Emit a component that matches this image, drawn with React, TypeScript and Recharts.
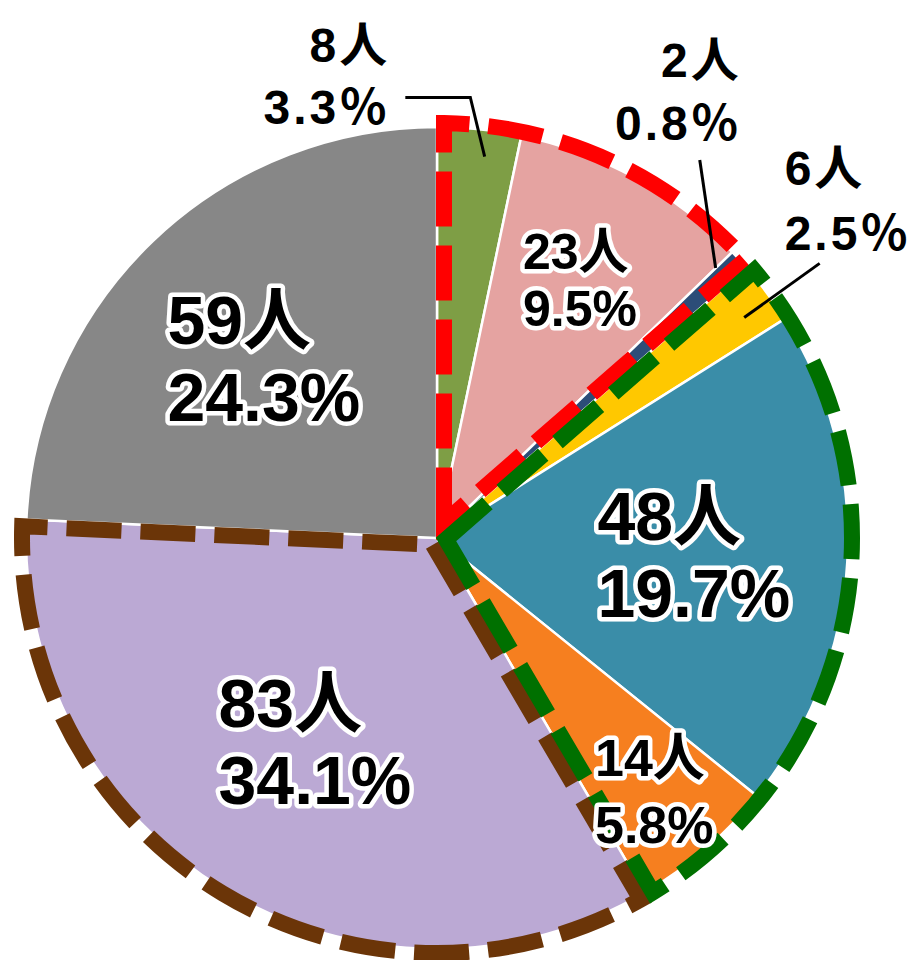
import React from 'react';
import { PieChart, Pie, Cell } from 'recharts';

// slices clockwise from 12 o'clock
const sliceNames = ['s1', 's2', 's3', 's4', 's5', 's6', 's7', 's8'];
const counts = [8, 23, 2, 6, 48, 14, 83, 59];
const percentLabels = ['3.3', '9.5', '0.8', '2.5', '19.7', '5.8', '34.1', '24.3'];
const sliceColors = ['#7E9E45', '#E5A3A1', '#2C4D78', '#FFC800', '#3A8DA8', '#F67F1F', '#BBA9D4', '#878787'];

// dashed outlines around groups of slices
const groupMembers = [[0, 1, 2], [3, 4, 5], [6], [7]];
const groupColors = ['#FF0000', '#007000', '#6B3508', 'none'];

const sliceData = sliceNames.map((name, i) => ({ name, value: counts[i] }));
const groupData = groupMembers.map((m, i) => ({
    name: `g${i}`,
    value: m.reduce((s, k) => s + counts[k], 0),
}));

const CX = 432;
const CY = 533;
const R = 411;
const OUT_R = R + 4;
const INSET = 7;
const RAD = Math.PI / 180;

const polar = (cx: number, cy: number, r: number, angle: number) => ({
    x: cx + Math.cos(-angle * RAD) * r,
    y: cy + Math.sin(-angle * RAD) * r,
});

const charW = (c: string) => (/[0-9]/.test(c) ? 0.556 : c === '.' ? 0.278 : c === '%' ? 0.889 : 1);
const textW = (s: string) => s.split('').reduce((a, c) => a + charW(c), 0);

// labels inside the slices (r = fraction of radius, fs = font size, gap = line pitch)
const INSIDE: Record<number, { r: number; fs: number; gap: number }> = {
    1: { r: 0.72, fs: 50, gap: 1.14 },
    4: { r: 0.626, fs: 68, gap: 1.13 },
    5: { r: 0.81, fs: 52, gap: 1.28 },
    6: { r: 0.575, fs: 68, gap: 1.13 },
    7: { r: 0.61, fs: 68, gap: 1.13 },
};

// labels outside with leader lines (angle offsets in clockwise degrees)
const OUTSIDE: Record<number, { inR: number; d1: number; outR: number; d2: number; hx: number; anchor: 'start' | 'end'; tx: number; ty1: number; ty2: number }> = {
    0: { inR: 0.935, d1: 1.2, outR: 1.075, d2: -1.6, hx: -65, anchor: 'end', tx: -80, ty1: -35, ty2: 27 },
    2: { inR: 0.944, d1: -1.5, outR: 1.12, d2: -12.6, hx: 0, anchor: 'end', tx: 42, ty1: -83, ty2: -20 },
    3: { inR: 0.92, d1: 1, outR: 1.146, d2: 1, hx: 0, anchor: 'start', tx: -35, ty1: -78, ty2: -13 },
};

const INNER_FONT = "'Liberation Sans', 'Noto Sans CJK JP', sans-serif";

// eslint-disable-next-line @typescript-eslint/no-explicit-any
const renderLabel = (props: any) => {
    const { cx, cy, midAngle, outerRadius, index } = props;
    const line1 = `${counts[index]}人`;

    const inside = INSIDE[index];
    if (inside) {
        const line2 = `${percentLabels[index]}%`;
        const p = polar(cx, cy, outerRadius * inside.r, midAngle);
        const w = Math.max(textW(line1), textW(line2)) * inside.fs;
        const pitch = inside.fs * inside.gap;
        const capH = inside.fs * 0.75;
        const b1 = p.y - pitch / 2 + capH / 2;
        const common = {
            x: p.x - w / 2,
            textAnchor: 'start' as const,
            fontSize: inside.fs,
            fontWeight: 'bold',
            fontFamily: INNER_FONT,
            fill: '#000',
            stroke: '#fff',
            strokeWidth: 9,
            strokeLinejoin: 'round' as const,
            paintOrder: 'stroke',
        };
        return (
            <g key={`lab-${index}`}>
                <text {...common} y={b1}>{line1}</text>
                <text {...common} y={b1 + pitch}>{line2}</text>
            </g>
        );
    }

    const out = OUTSIDE[index];
    if (!out) return null;
    const line2 = `${percentLabels[index]}％`;
    const p1 = polar(cx, cy, outerRadius * out.inR, midAngle - out.d1);
    const p2 = polar(cx, cy, outerRadius * out.outR, midAngle - out.d2);
    const pts = [p1, p2];
    if (out.hx) pts.push({ x: p2.x + out.hx, y: p2.y });
    const text = {
        x: p2.x + out.tx,
        textAnchor: out.anchor,
        fontSize: 48,
        fontWeight: 'bold',
        fontFamily: INNER_FONT,
        fill: '#000',
        letterSpacing: 3,
    };
    return (
        <g key={`lab-${index}`}>
            <polyline points={pts.map((q) => `${q.x},${q.y}`).join(' ')} fill="none" stroke="#000" strokeWidth={3} />
            <text {...text} y={p2.y + out.ty1}>{line1}</text>
            <text {...text} y={p2.y + out.ty2}>{line2}</text>
        </g>
    );
};

// dashed group outline, drawn slightly inside the group's own edges
const outlineShape = (which: number[]) => {
    // eslint-disable-next-line @typescript-eslint/no-explicit-any
    return (props: any) => {
        const { cx, cy, startAngle, endAngle } = props;
        const key = props.name ?? props.payload?.name;
        let gi = groupData.findIndex((g) => g.name === key);
        if (gi < 0) gi = props.index ?? 0;
        const color = groupColors[gi];
        if (!which.includes(gi) || color === 'none') return <g />;
        const span = Math.abs(startAngle - endAngle);
        const delta = Math.asin(INSET / OUT_R) / RAD;
        const dir = startAngle > endAngle ? -1 : 1;
        const a0 = startAngle + dir * delta;
        const a1 = endAngle - dir * delta;
        const apex = polar(cx, cy, INSET / Math.sin((span / 2) * RAD), (startAngle + endAngle) / 2);
        const p0 = polar(cx, cy, OUT_R, a0);
        const p1 = polar(cx, cy, OUT_R, a1);
        const large = Math.abs(a1 - a0) > 180 ? 1 : 0;
        const sweep = dir < 0 ? 1 : 0;
        const d = `M${apex.x},${apex.y} L${p0.x},${p0.y} A${OUT_R},${OUT_R} 0 ${large} ${sweep} ${p1.x},${p1.y} Z`;
        return <path d={d} fill="none" stroke={color} strokeWidth={16} strokeDasharray="55 19" />;
    };
};

export default function App() {
    return (
        <div style={{ position: 'absolute', left: 0, top: 0, width: 912, height: 960, background: '#fff' }}>
            <PieChart width={912} height={960}>
                <Pie
                    data={sliceData}
                    dataKey="value"
                    nameKey="name"
                    cx={CX}
                    cy={CY}
                    outerRadius={R}
                    startAngle={90}
                    endAngle={-270}
                    stroke="#fff"
                    strokeWidth={2.5}
                    isAnimationActive={false}
                >
                    {sliceData.map((d, i) => (
                        <Cell key={d.name} fill={sliceColors[i]} />
                    ))}
                </Pie>
                {/* brown outline underneath */}
                <Pie
                    data={groupData}
                    dataKey="value"
                    nameKey="name"
                    cx={CX}
                    cy={CY}
                    outerRadius={OUT_R}
                    startAngle={90}
                    endAngle={-270}
                    shape={outlineShape([2])}
                    isAnimationActive={false}
                >
                    {groupData.map((d) => (
                        <Cell key={d.name} fill="none" stroke="none" />
                    ))}
                </Pie>
                {/* red, then green on top */}
                <Pie
                    data={groupData}
                    dataKey="value"
                    nameKey="name"
                    cx={CX}
                    cy={CY}
                    outerRadius={OUT_R}
                    startAngle={90}
                    endAngle={-270}
                    shape={outlineShape([0, 1])}
                    isAnimationActive={false}
                >
                    {groupData.map((d) => (
                        <Cell key={d.name} fill="none" stroke="none" />
                    ))}
                </Pie>
                {/* labels on top */}
                <Pie
                    data={sliceData}
                    dataKey="value"
                    nameKey="name"
                    cx={CX}
                    cy={CY}
                    outerRadius={R}
                    startAngle={90}
                    endAngle={-270}
                    label={renderLabel}
                    labelLine={false}
                    isAnimationActive={false}
                >
                    {sliceData.map((d) => (
                        <Cell key={d.name} fill="none" stroke="none" />
                    ))}
                </Pie>
            </PieChart>
        </div>
    );
}
